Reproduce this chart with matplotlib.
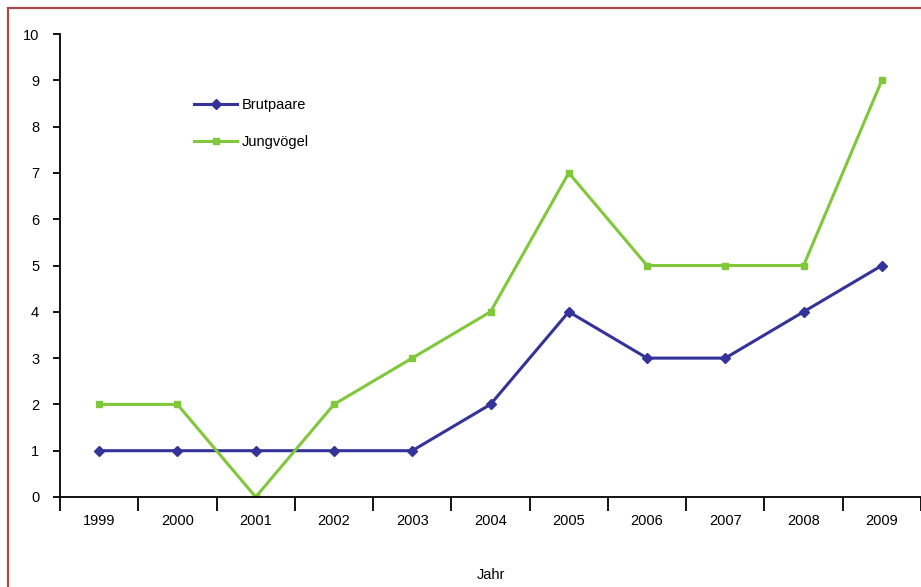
import matplotlib
matplotlib.use("Agg")
import matplotlib.pyplot as plt
from matplotlib.patches import Rectangle
from matplotlib.ticker import FixedLocator

plt.rcParams['font.family'] = ['Liberation Sans', 'DejaVu Sans']

years = ['1999', '2000', '2001', '2002', '2003', '2004', '2005', '2006', '2007', '2008', '2009']
brutpaare = [1, 1, 1, 1, 1, 2, 4, 3, 3, 4, 5]
jungvoegel = [2, 2, 0, 2, 3, 4, 7, 5, 5, 5, 9]

W, H = 921, 587
fig = plt.figure(figsize=(W / 100, H / 100), dpi=100)

# outer frame (left and top edges visible, the rest runs off the canvas)
fig.patches.append(Rectangle((8 / W, -0.1), 1.2, 1 - 8 / H + 0.1,
                             transform=fig.transFigure, fill=False,
                             edgecolor='#a84a4a', linewidth=1.6))

ax = fig.add_axes([60 / W, 1 - 497 / H, (W - 60) / W, (497 - 34) / H])

x = list(range(len(years)))
ax.plot(x, brutpaare, color='#333399', linewidth=2.2, marker='D',
        markersize=5, label='Brutpaare')
ax.plot(x, jungvoegel, color='#80c83a', linewidth=2.2, marker='s',
        markersize=4, label='Jungvögel')

ax.set_xlim(-0.5, len(years) - 0.5)
ax.set_ylim(0, 10)
ax.set_yticks(range(0, 11))
ax.set_xticks(x)
ax.set_xticklabels(years)
ax.xaxis.set_minor_locator(FixedLocator([i - 0.5 for i in range(len(years) + 1)]))
ax.tick_params(axis='x', which='major', length=0, pad=12, labelsize=10.5)
ax.tick_params(axis='x', which='minor', length=10, width=1.3, direction='out')
ax.tick_params(axis='y', length=5, width=1.3, direction='out', pad=10, labelsize=10.5)

for s in ['top', 'right']:
    ax.spines[s].set_visible(False)
for s in ['left', 'bottom']:
    ax.spines[s].set_linewidth(1.3)

ax.set_xlabel('Jahr', fontsize=10.5, labelpad=29)

ax.legend(loc='upper left', bbox_to_anchor=(0.14, 0.89), frameon=False,
          fontsize=10.5, handlelength=3.0, handletextpad=0.3, labelspacing=1.6)

fig.savefig('out.png', dpi=100)
